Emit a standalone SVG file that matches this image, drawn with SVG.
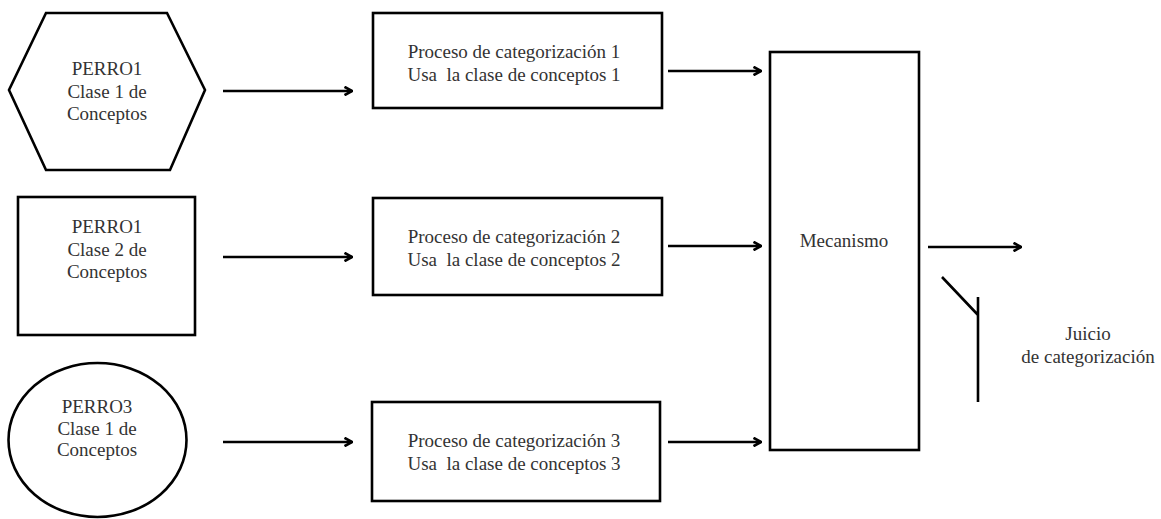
<svg xmlns="http://www.w3.org/2000/svg" width="1161" height="519" viewBox="0 0 1161 519">
  <style>
    .shape { fill: #ffffff; stroke: #000000; stroke-width: 2.6; }
    .label { font-size: 19px; fill: #333333; text-anchor: middle; white-space: pre; }
    .link { stroke: #000000; stroke-width: 2.6; fill: none; }
  </style>
  <defs>
    <marker id="arrow" viewBox="0 0 10 10" refX="9" refY="5" markerWidth="10" markerHeight="10" markerUnits="userSpaceOnUse" orient="auto">
      <path d="M1.5 0.8 L9 5 L1.5 9.2" fill="none" stroke="#000000" stroke-width="2.6"/>
    </marker>
  </defs>
  <rect width="1161" height="519" fill="#ffffff"/>

  <g font-family="Liberation Serif, Times New Roman, serif">
  <!-- input concept classes -->
  <g id="perro1-hex">
    <polygon class="shape" points="46,13 167,13 205,90 170,170 46,170 9,90"/>
    <text class="label" x="107" y="75">PERRO1</text>
    <text class="label" x="107" y="98">Clase 1 de</text>
    <text class="label" x="107" y="120">Conceptos</text>
  </g>
  <g id="perro1-rect">
    <rect class="shape" x="18" y="197" width="177" height="138"/>
    <text class="label" x="107" y="233">PERRO1</text>
    <text class="label" x="107" y="256">Clase 2 de</text>
    <text class="label" x="107" y="278">Conceptos</text>
  </g>
  <g id="perro3-ellipse">
    <ellipse class="shape" cx="97.5" cy="440" rx="89" ry="77"/>
    <text class="label" x="97" y="413">PERRO3</text>
    <text class="label" x="97" y="435">Clase 1 de</text>
    <text class="label" x="97" y="456">Conceptos</text>
  </g>

  <!-- categorization processes -->
  <g id="proceso1">
    <rect class="shape" x="373" y="13" width="289" height="95"/>
    <text class="label" x="514" y="58">Proceso de categorización 1</text>
    <text class="label" x="514" y="81" xml:space="preserve">Usa  la clase de conceptos 1</text>
  </g>
  <g id="proceso2">
    <rect class="shape" x="373" y="198" width="289" height="97"/>
    <text class="label" x="514" y="243">Proceso de categorización 2</text>
    <text class="label" x="514" y="266" xml:space="preserve">Usa  la clase de conceptos 2</text>
  </g>
  <g id="proceso3">
    <rect class="shape" x="372" y="402" width="288" height="99"/>
    <text class="label" x="514" y="447">Proceso de categorización 3</text>
    <text class="label" x="514" y="470" xml:space="preserve">Usa  la clase de conceptos 3</text>
  </g>

  <!-- combining mechanism -->
  <g id="mecanismo">
    <rect class="shape" x="770" y="52" width="149" height="398"/>
    <text class="label" x="844" y="247">Mecanismo</text>
  </g>

  <!-- output judgement -->
  <g id="juicio">
    <path class="link" d="M942 277 L978 315 M978 297 L978 402"/>
    <text class="label" x="1088" y="340">Juicio</text>
    <text class="label" x="1088" y="363">de categorización</text>
  </g>
  </g>

  <g id="connectors">
    <line class="link" x1="223" y1="91" x2="352" y2="91" marker-end="url(#arrow)"/>
    <line class="link" x1="223" y1="257" x2="352" y2="257" marker-end="url(#arrow)"/>
    <line class="link" x1="223" y1="442" x2="352" y2="442" marker-end="url(#arrow)"/>
    <line class="link" x1="668" y1="71" x2="761" y2="71" marker-end="url(#arrow)"/>
    <line class="link" x1="668" y1="246" x2="761" y2="246" marker-end="url(#arrow)"/>
    <line class="link" x1="668" y1="442" x2="761" y2="442" marker-end="url(#arrow)"/>
    <line class="link" x1="928" y1="247" x2="1021" y2="247" marker-end="url(#arrow)"/>
  </g>
</svg>
